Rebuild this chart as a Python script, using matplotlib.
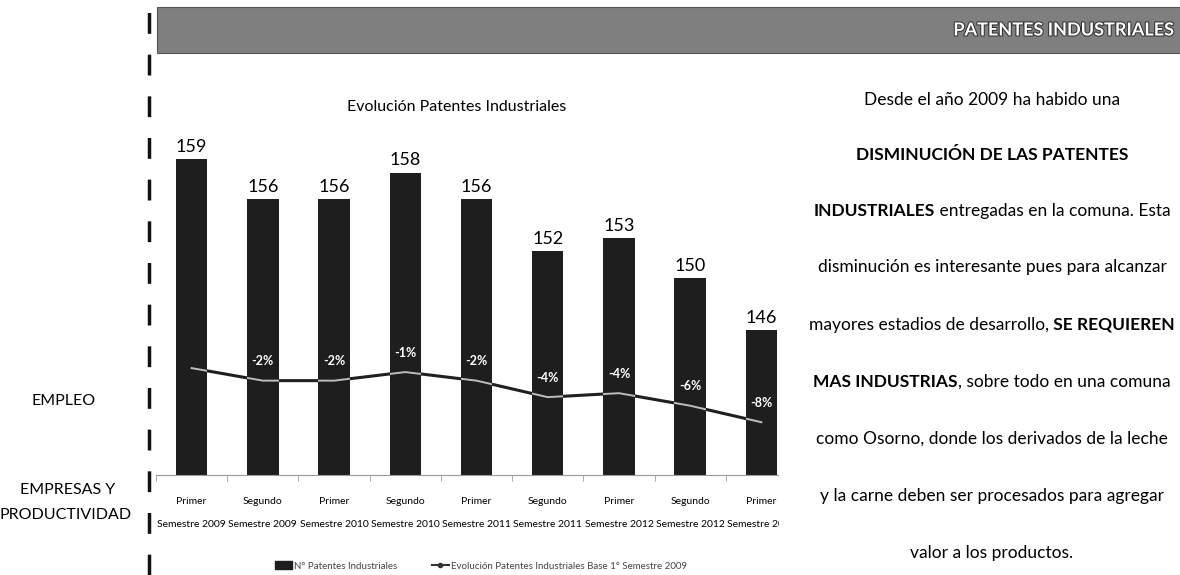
import matplotlib
matplotlib.use('Agg')
import matplotlib.pyplot as plt
import matplotlib.patheffects as pe
from matplotlib.patches import Rectangle
from matplotlib.lines import Line2D
from matplotlib.path import Path

plt.rcParams['font.family'] = ['Lato', 'DejaVu Sans']

# datos
categorias = ['Primer\nSemestre 2009', 'Segundo\nSemestre 2009', 'Primer\nSemestre 2010',
              'Segundo\nSemestre 2010', 'Primer\nSemestre 2011', 'Segundo\nSemestre 2011',
              'Primer\nSemestre 2012', 'Segundo\nSemestre 2012', 'Primer\nSemestre 2013']
patentes = [159, 156, 156, 158, 156, 152, 153, 150, 146]
evolucion = [0.0, -1.9, -1.9, -0.6, -1.9, -4.4, -3.8, -5.7, -8.2]
etiquetas_pct = ['', '-2%', '-2%', '-1%', '-2%', '-4%', '-4%', '-6%', '-8%']

W, H = 1180, 575
fig = plt.figure(figsize=(W / 100, H / 100), dpi=100)


def fx(px):
    return px / W


def fy(py):
    return 1 - py / H


# ejes del grafico (en pixeles de la imagen)
left, right, top, base = 156, 797, 120, 475
ax = fig.add_axes([fx(left), fy(base), fx(right - left), (base - top) / H])
x = list(range(len(patentes)))
bars = ax.bar(x, patentes, width=0.44, color='#1e1e1e', zorder=2)
ax.set_xlim(-0.5, len(patentes) - 0.5)
ax.set_ylim(135, 162)
ax.set_yticks([])
for s in ['top', 'right', 'left']:
    ax.spines[s].set_visible(False)
ax.spines['bottom'].set_color('#9a9a9a')
ax.spines['bottom'].set_linewidth(0.8)
ax.set_xticks(x)
ax.set_xticklabels(categorias, fontsize=7.5, linespacing=3.0)
ax.tick_params(axis='x', length=0, pad=16)
ax.set_xticks([i - 0.5 for i in range(len(patentes) + 1)], minor=True)
ax.tick_params(axis='x', which='minor', length=4, color='#9a9a9a')

for i, v in enumerate(patentes):
    ax.annotate(str(v), (i, v), xytext=(0, 3), textcoords='offset points',
                ha='center', va='bottom', fontsize=13)

# linea de evolucion en eje secundario
ax2 = ax.twinx()
ax2.set_ylim(-16.2, 37.6)
ax2.axis('off')
ax2.plot(x, evolucion, color='#1f1f1f', lw=2.2, zorder=3)
inner, = ax2.plot(x, evolucion, color='#bdbdbd', lw=1.4, zorder=4)
rects = [b.get_path().transformed(b.get_patch_transform()) for b in bars]
inner.set_clip_path(Path.make_compound_path(*rects), ax.transData)
for i, t in enumerate(etiquetas_pct):
    if t:
        ax2.annotate(t, (i, evolucion[i]), xytext=(0, 14), textcoords='offset points',
                     ha='center', va='center', fontsize=9, color='white', weight='bold')

fig.text(fx(457), fy(107), 'Evolución Patentes Industriales', ha='center', va='center', fontsize=11.5)

# leyenda
h1 = Rectangle((0, 0), 1, 1, color='#1e1e1e')
h2 = Line2D([], [], color='#333333', lw=1.5, marker='o', markersize=3)
fig.legend([h1, h2], ['N° Patentes Industriales', 'Evolución Patentes Industriales Base 1° Semestre 2009'],
           loc='center', bbox_to_anchor=(fx(481), fy(566)), ncol=2, frameon=False,
           fontsize=7, handlelength=1.8, handleheight=0.9, columnspacing=3.5, handletextpad=0.2,
           labelcolor='#444444')

# panel de texto a la derecha (tapa el final del grafico)
fig.add_artist(Rectangle((fx(779), 0), fx(W - 779), fy(53), transform=fig.transFigure,
                         facecolor='white', edgecolor='none', zorder=1))

# cabecera
fig.add_artist(Rectangle((fx(157), fy(53)), fx(W - 157), 46 / H, transform=fig.transFigure,
                         facecolor='#7f7f7f', edgecolor='#555555', lw=0.8, zorder=1))
fig.text(fx(1174), fy(30), 'PATENTES INDUSTRIALES', ha='right', va='center', fontsize=13,
         weight='bold', color='white', zorder=3,
         path_effects=[pe.withStroke(linewidth=1.5, foreground='#333333')])

# linea vertical discontinua
fig.add_artist(Line2D([fx(149), fx(149)], [0, 1], transform=fig.transFigure, color='#111111',
                      lw=2.5, dashes=(6, 6), zorder=3))

# etiquetas a la izquierda
fig.text(fx(64), fy(401), 'EMPLEO', ha='center', va='center', fontsize=11.5)
fig.text(fx(68), fy(490), 'EMPRESAS Y', ha='center', va='center', fontsize=11.5)
fig.text(fx(66), fy(515), 'PRODUCTIVIDAD', ha='center', va='center', fontsize=11.5)

# parrafo
parrafo = [
    (100, [('Desde el año 2009 ha habido una', False)]),
    (155, [('DISMINUCIÓN DE LAS PATENTES', True)]),
    (211, [('INDUSTRIALES', True), (' entregadas en la comuna. Esta', False)]),
    (267, [('disminución es interesante pues para alcanzar', False)]),
    (325, [('mayores estadios de desarrollo,', False), (' SE REQUIEREN', True)]),
    (382, [('MAS INDUSTRIAS', True), (', sobre todo en una comuna', False)]),
    (439, [('como Osorno, donde los derivados de la leche', False)]),
    (496, [('y la carne deben ser procesados para agregar', False)]),
    (553, [('valor a los productos.', False)]),
]
renderer = fig.canvas.get_renderer()
cx = 992
for py, partes in parrafo:
    textos = [fig.text(0, fy(py), s, ha='left', va='center', fontsize=12.5,
                       weight='bold' if b else 'normal', zorder=3) for s, b in partes]
    anchos = [t.get_window_extent(renderer).width for t in textos]
    xpos = cx - sum(anchos) / 2
    for t, w in zip(textos, anchos):
        t.set_x(fx(xpos))
        xpos += w

fig.savefig('out.png', dpi=100)
